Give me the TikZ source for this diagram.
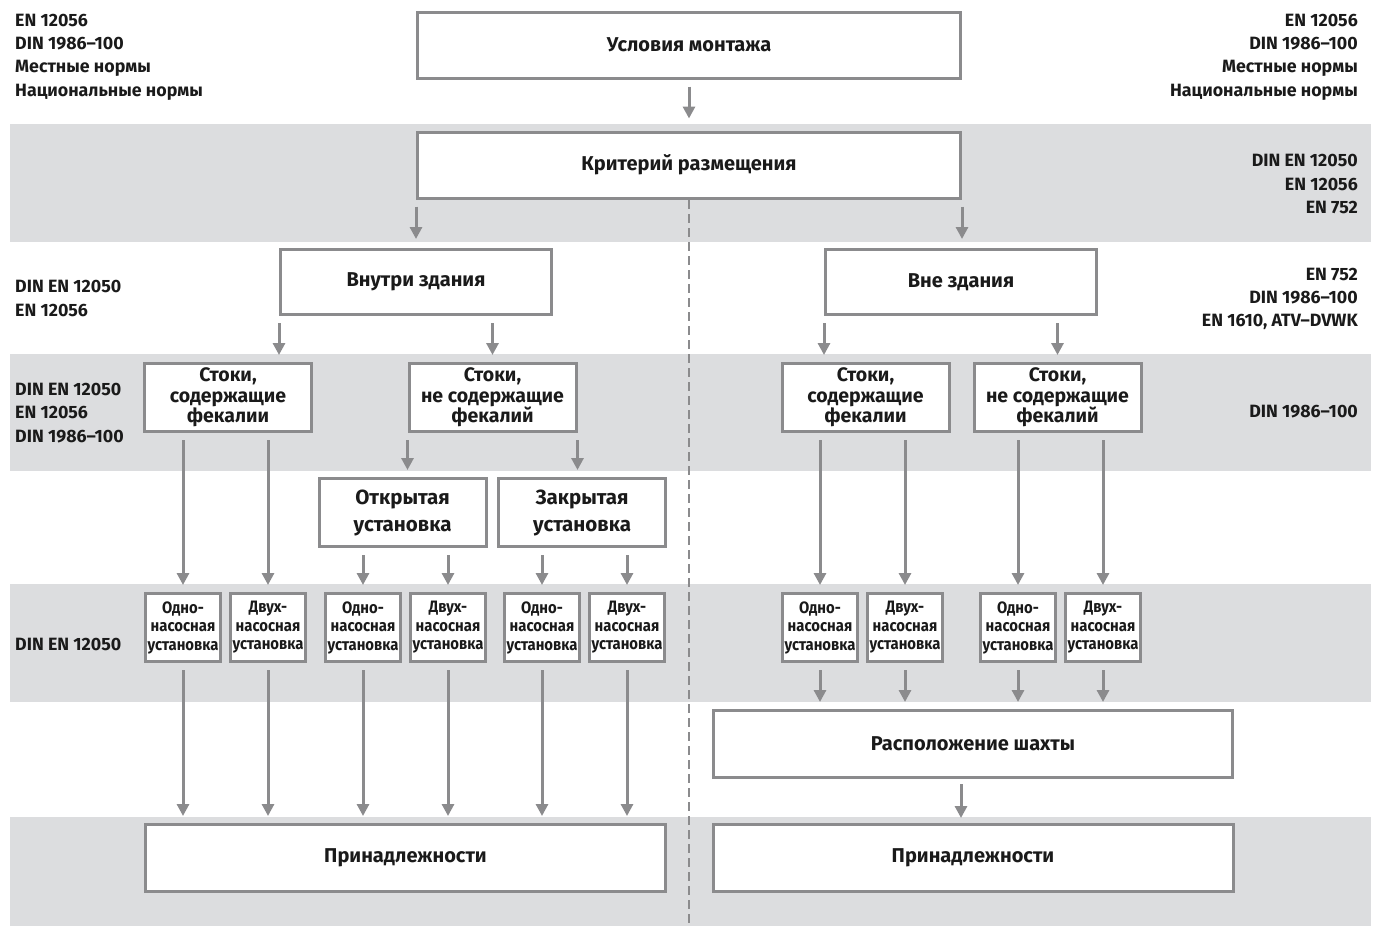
\documentclass[tikz,border=0pt]{standalone}
\usepackage{fontspec}
\setmainfont{Fira Sans}
\newfontfamily\narrowfont{Fira Sans}[FakeStretch=0.9]
\usetikzlibrary{arrows.meta}
\definecolor{bandgray}{RGB}{220,221,223}
\definecolor{linegray}{RGB}{139,139,141}
\definecolor{textdark}{RGB}{26,26,26}
\tikzset{
  box/.style={draw=linegray, line width=3pt, fill=white, text=textdark, inner sep=0pt, align=center, font=\bfseries\fontsize{20}{22}\selectfont},
  widebox/.style={box, minimum width=543pt, minimum height=66pt},
  halfbox/.style={box, minimum width=271pt, minimum height=65pt},
  drainbox/.style={box, minimum width=167pt, minimum height=68pt, font=\bfseries\fontsize{19.5}{20.5}\selectfont},
  setbox/.style={box, minimum width=167pt, minimum height=68pt, font=\bfseries\fontsize{20.5}{27}\selectfont},
  pumpbox/.style={box, minimum width=75pt, minimum height=68pt, font=\narrowfont\bfseries\fontsize{16.5}{18.5}\selectfont},
  accbox/.style={box, minimum width=520pt, minimum height=67pt},
  arr/.style={draw=linegray, line width=3pt, -{Triangle[width=12pt,length=12pt]}, shorten <=7pt, shorten >=7pt},
  note/.style={text=textdark, font=\bfseries\fontsize{17.8}{23.3}\selectfont, inner sep=0pt},
}

\begin{document}
\begin{tikzpicture}[x=1pt,y=-1pt]
  \def\bl{10};
  \def\br{1371};
  \useasboundingbox (0,0) rectangle (1379,926);
  % bands
  \fill[bandgray] (\bl,124) rectangle (\br,242);
  \fill[bandgray] (\bl,354) rectangle (\br,471);
  \fill[bandgray] (\bl,584) rectangle (\br,702);
  \fill[bandgray] (\bl,817) rectangle (\br,926);
  \draw[linegray, line width=2pt, dash pattern=on 9pt off 5pt] (689,200)--(689,926);
  % boxes
  \node[widebox] (mount) at (689,45) {Условия монтажа};
  \node[widebox] (crit) at (689,165) {Критерий размещения};
  \node[halfbox] (inside) at (416,282) {Внутри здания};
  \node[halfbox] (outside) at (961,282) {Вне здания};
  \node[drainbox] (dr1) at (228,397.5) {Стоки,\\содержащие\\фекалии};
  \node[drainbox] (dr2) at (492.5,397.5) {Стоки,\\не содержащие\\фекалий};
  \node[drainbox] (dr3) at (865.5,397.5) {Стоки,\\содержащие\\фекалии};
  \node[drainbox] (dr4) at (1057.5,397.5) {Стоки,\\не содержащие\\фекалий};
  \node[setbox] (open) at (402.5,512.5) {Открытая\\установка};
  \node[setbox] (closed) at (582,512.5) {Закрытая\\установка};
  \foreach \n/\x in {1/183,3/363,5/542,7/820,9/1018}
    \node[pumpbox] (p\n) at (\x,627.5) {Одно-\\насосная\\установка};
  \foreach \n/\x in {2/268,4/448,6/627,8/905,10/1103}
    \node[pumpbox] (p\n) at (\x,627.5) {Двух-\\насосная\\установка};
  \node[box, minimum width=519pt, minimum height=67pt] (shaft) at (973,744) {Расположение шахты};
  \node[accbox] (acc1) at (405.5,858) {Принадлежности};
  \node[accbox] (acc2) at (973,858) {Принадлежности};
  % arrows
  \draw[arr, shorten >=12pt] (mount.south)--(crit.north);
  \draw[arr, shorten >=9pt] (crit.south west)--(crit.south west |- inside.north);
  \draw[arr, shorten >=9pt] (crit.south east)--(crit.south east |- outside.north);
  \draw[arr] (inside.south west)--(inside.south west |- dr1.north);
  \draw[arr] (inside.south -| dr2.north)--(dr2.north);
  \draw[arr] (outside.south west)--(outside.south west |- dr3.north);
  \draw[arr] (outside.south -| dr4.north)--(dr4.north);
  \draw[arr] (dr1.south -| p1.north)--(p1.north);
  \draw[arr] (dr1.south -| p2.north)--(p2.north);
  \draw[arr] (dr2.south west)--(dr2.south west |- open.north);
  \draw[arr] (dr2.south east)--(dr2.south east |- closed.north);
  \draw[arr] (open.south -| p3.north)--(p3.north);
  \draw[arr] (open.south -| p4.north)--(p4.north);
  \draw[arr] (closed.south -| p5.north)--(p5.north);
  \draw[arr] (closed.south -| p6.north)--(p6.north);
  \draw[arr] (dr3.south -| p7.north)--(p7.north);
  \draw[arr] (dr3.south -| p8.north)--(p8.north);
  \draw[arr] (dr4.south -| p9.north)--(p9.north);
  \draw[arr] (dr4.south -| p10.north)--(p10.north);
  \foreach \n in {1,...,6}
    \draw[arr] (p\n.south)--(p\n.south |- acc1.north);
  \foreach \n in {7,...,10}
    \draw[arr] (p\n.south)--(p\n.south |- shaft.north);
  \draw[arr, shorten <=5pt, shorten >=5pt] (shaft.south -| outside.south)--(outside.south |- acc2.north);
  % standards
  \node[note, anchor=west, align=left] (stdTL) at (15,57) {EN 12056\\DIN 1986–100\\Местные нормы\\Национальные нормы};
  \node[note, anchor=east, align=right] (stdTR) at (1358,57) {EN 12056\\DIN 1986–100\\Местные нормы\\Национальные нормы};
  \node[note, anchor=east, align=right] (stdCrit) at (1358,184) {DIN EN 12050\\EN 12056\\EN 752};
  \node[note, anchor=west, align=left] (stdIn) at (15,298.5) {DIN EN 12050\\EN 12056};
  \node[note, anchor=east, align=right] (stdOut) at (1358,299) {EN 752\\DIN 1986–100\\EN 1610, ATV–DVWK};
  \node[note, anchor=west, align=left] (stdDrain) at (15,413) {DIN EN 12050\\EN 12056\\DIN 1986–100};
  \node[note, anchor=east, align=right] (stdDrainR) at (1358,412) {DIN 1986–100};
  \node[note, anchor=west, align=left] (stdPump) at (15,644) {DIN EN 12050};
\end{tikzpicture}
\end{document}
